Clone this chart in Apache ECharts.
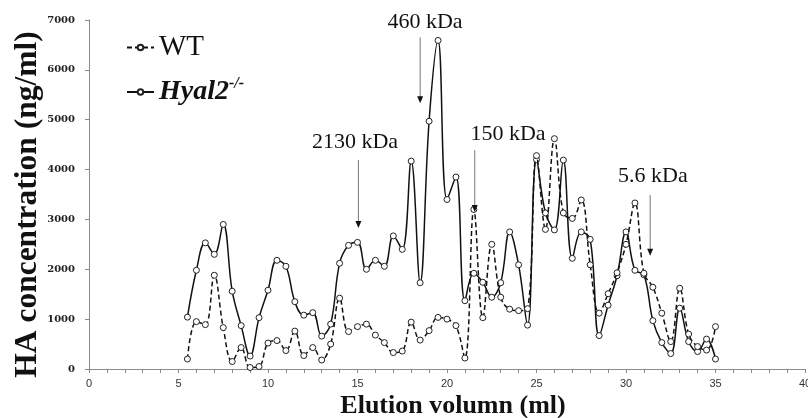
<!DOCTYPE html>
<html>
<head>
<meta charset="utf-8">
<script src="https://cdn.jsdelivr.net/npm/echarts@6/dist/echarts.min.js"></script>
<style>
  html, body { margin: 0; padding: 0; background: #fff; }
  #chart { width: 808px; height: 418px; }
</style>
</head>
<body>
<div id="chart"></div>
<script>
// ── HA elution profile: WT vs Hyal2-/- ──

const volumes = [
  5.5, 6, 6.5, 7, 7.5, 8, 8.5, 9, 9.5, 10, 10.5, 11, 11.5, 12, 12.5, 13, 13.5, 14, 14.5, 15,
  15.5, 16, 16.5, 17, 17.5, 18, 18.5, 19, 19.5, 20, 20.5, 21, 21.5, 22, 22.5, 23, 23.5, 24, 24.5, 25,
  25.5, 26, 26.5, 27, 27.5, 28, 28.5, 29, 29.5, 30, 30.5, 31, 31.5, 32, 32.5, 33, 33.5, 34, 34.5, 35
];

const wtValues = [
  200, 950, 890, 1880, 830, 150, 430, 30, 50, 520, 570, 370, 760, 270, 430, 180, 500, 1420, 750, 850,
  900, 680, 530, 330, 360, 940, 580, 770, 1035, 1000, 870, 220, 3200, 1030, 2500, 1440, 1200, 1170, 1210, 4280,
  2800, 4620, 3130, 3020, 3390, 2090, 1120, 1510, 1930, 2500, 3330, 1920, 1640, 1120, 550, 1620, 700, 450, 380, 850
];

const hyal2Values = [
  1040, 1980, 2530, 2300, 2900, 1560, 870, 260, 1030, 1580, 2180, 2060, 1350, 1080, 1130, 660, 900, 2120, 2480, 2540,
  2000, 2180, 2060, 2670, 2400, 4170, 1730, 4970, 6590, 3400, 3850, 1370, 1920, 1740, 1440, 1730, 2750, 2090, 880, 4200,
  3130, 2790, 4190, 2220, 2750, 2600, 670, 1280, 1870, 2750, 1980, 1890, 970, 530, 310, 1220, 550, 350, 600, 200
];

// molecular weight markers (arrow x, arrow top/tip in ng/ml, label centre)
const markerLabels = ['2130 kDa', '460 kDa', '150 kDa', '5.6 kDa'];
const markerX = [15.05, 18.5, 21.55, 31.35];
const markerTop = [4190, 6650, 4390, 3490];
const markerTip = [2830, 5330, 3150, 2270];
const markerTextX = [14.86, 18.77, 23.41, 31.5];
const markerTextY = [4549, 6954, 4700, 3858];

const serif = '"Liberation Serif", "Times New Roman", serif';

const chart = echarts.init(document.getElementById('chart'));

function pairs(vals) {
  return volumes.map((v, i) => [v, vals[i]]);
}

chart.setOption({
  backgroundColor: '#fff',
  animation: false,
  grid: { left: 89, right: 3, top: 20, bottom: 49, containLabel: false, outerBoundsMode: 'none' },
  legend: {
    orient: 'vertical',
    left: 121,
    top: 28,
    itemGap: 14,
    itemWidth: 27,
    itemHeight: 7,
    data: ['WT', 'Hyal2-/-'],
    formatter: n => n === 'WT' ? '{wt|WT}' : '{hy|Hyal2}{sup|-/-}',
    textStyle: {
      rich: {
        wt: { fontFamily: serif, fontSize: 29, color: '#111', lineHeight: 32 },
        hy: { fontFamily: serif, fontSize: 28, fontWeight: 'bold', fontStyle: 'italic', color: '#111', lineHeight: 32 },
        sup: { fontFamily: serif, fontSize: 16, fontWeight: 'bold', fontStyle: 'italic', color: '#111', lineHeight: 32, verticalAlign: 'top' }
      }
    }
  },
  xAxis: {
    type: 'value',
    min: 0, max: 40, interval: 5,
    name: 'Elution volumn (ml)',
    nameLocation: 'middle',
    nameGap: 24,
    nameMoveOverlap: false,
    nameTextStyle: { fontFamily: serif, fontSize: 26, fontWeight: 'bold', color: '#111', padding: [0, 0, 0, 12] },
    axisLine: { lineStyle: { color: '#8a8a8a', width: 1 } },
    axisTick: { show: true, length: 4, lineStyle: { color: '#8a8a8a' } },
    minorTick: { show: true, splitNumber: 5, length: 4, lineStyle: { color: '#8a8a8a' } },
    axisLabel: { fontFamily: '"Liberation Sans", Arial, sans-serif', fontSize: 11, color: '#333', margin: 9 },
    splitLine: { show: false }
  },
  yAxis: {
    type: 'value',
    min: 0, max: 7000, interval: 1000,
    name: 'HA concentration (ng/ml)',
    nameLocation: 'middle',
    nameGap: 45,
    nameMoveOverlap: false,
    nameTextStyle: { fontFamily: serif, fontSize: 31.5, fontWeight: 'bold', color: '#111', padding: [0, 20, 0, 0] },
    axisLine: { show: true, lineStyle: { color: '#8a8a8a', width: 1 } },
    axisTick: { show: true, length: 4, lineStyle: { color: '#8a8a8a' } },
    axisLabel: {
      fontFamily: '"DejaVu Serif", serif', fontSize: 10, fontWeight: 'bold', color: '#222', margin: 14,
      formatter: v => String(v)
    },
    splitLine: { show: false }
  },
  series: [
    {
      name: 'WT',
      type: 'line',
      data: pairs(wtValues),
      smooth: 0.4,
      symbol: 'circle',
      symbolSize: 6,
      showAllSymbol: true,
      lineStyle: { color: '#111', width: 1.5, type: [5, 3] },
      itemStyle: { color: '#fff', borderColor: '#222', borderWidth: 1 },
      z: 3
    },
    {
      name: 'Hyal2-/-',
      type: 'line',
      data: pairs(hyal2Values),
      smooth: 0.4,
      symbol: 'circle',
      symbolSize: 6,
      showAllSymbol: true,
      lineStyle: { color: '#111', width: 1.5 },
      itemStyle: { color: '#fff', borderColor: '#222', borderWidth: 1 },
      z: 2
    }
  ]
});

// arrows + labels, placed through the grid's own coordinate system
function drawMarkers() {
  const els = [];
  markerLabels.forEach((t, i) => {
    const top = chart.convertToPixel({ gridIndex: 0 }, [markerX[i], markerTop[i]]);
    const tip = chart.convertToPixel({ gridIndex: 0 }, [markerX[i], markerTip[i]]);
    const txt = chart.convertToPixel({ gridIndex: 0 }, [markerTextX[i], markerTextY[i]]);
    els.push({
      type: 'line', silent: true, z: 10,
      shape: { x1: top[0], y1: top[1], x2: tip[0], y2: tip[1] - 6 },
      style: { stroke: '#777', lineWidth: 1 }
    });
    els.push({
      type: 'polygon', silent: true, z: 10,
      shape: { points: [[tip[0] - 3, tip[1] - 7], [tip[0] + 3, tip[1] - 7], [tip[0], tip[1]]] },
      style: { fill: '#111' }
    });
    els.push({
      type: 'text', silent: true, z: 10, x: txt[0], y: txt[1],
      style: {
        text: t, font: '22px ' + serif, fill: '#111',
        align: 'center', verticalAlign: 'middle', textAlign: 'center', textVerticalAlign: 'middle'
      }
    });
  });
  chart.setOption({ graphic: els });
}

drawMarkers();
</script>
</body>
</html>
